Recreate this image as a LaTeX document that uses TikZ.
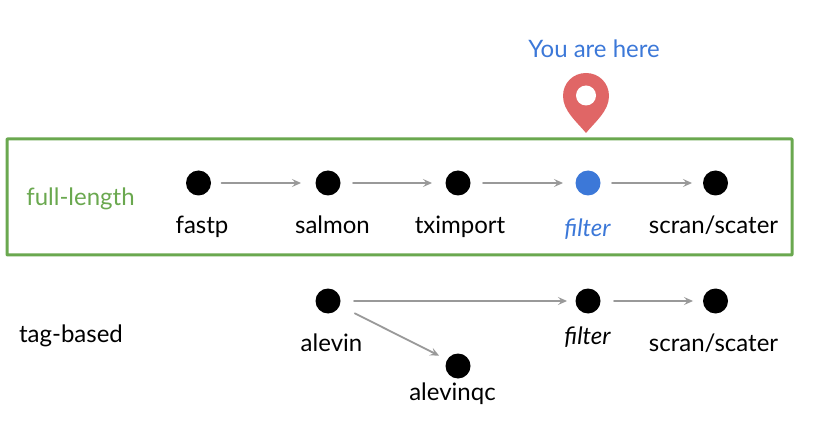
\documentclass[tikz,border=0pt]{standalone}
\usepackage{fontspec}
\setmainfont{Lato}
\usetikzlibrary{arrows.meta,positioning}
\definecolor{boxgreen}{HTML}{6AA84F}
\definecolor{hereblue}{HTML}{3C78D8}
\definecolor{pinred}{HTML}{E06666}
\definecolor{arrowgray}{HTML}{999999}
\tikzset{
  stepdot/.style={circle,fill=black,minimum size=25pt,inner sep=0pt,outer sep=0pt},
  steplabel/.style={anchor=base,inner sep=0pt,font=\fontsize{24}{28}\selectfont},
  steparrow/.style={draw=arrowgray,line width=1.8pt,shorten <=12.5pt,shorten >=12.5pt,
    -{Stealth[length=9pt,width=8pt,inset=3.5pt]}},
  every picture/.style={line cap=round,line join=round}
}

\begin{document}
\begin{tikzpicture}[x=1pt,y=-1pt]
  \useasboundingbox (0,0) rectangle (826,427);
  \node[steplabel,hereblue] (here) at (594,58) {You are here};
  % pin
  \fill[pinred] (586,133) .. controls (577,122) and (563,111) .. (563,96)
        .. controls (563,83) and (573,73) .. (586,73)
        .. controls (599,73) and (609,83) .. (609,96)
        .. controls (609,111) and (595,122) .. (586,133) -- cycle;
  \fill[white] (586,95.5) circle (10);
  \node[draw=boxgreen,line width=3pt,rounded corners=0.5pt,minimum width=785pt,minimum height=116pt,inner sep=0pt,outer sep=0pt] (fullbox) at (399.5,197) {};
  % full-length row
  \node[stepdot] (fastp) at (198.5,183) {};
  \node[stepdot] (salmon) at (328,183) {};
  \node[stepdot] (tximport) at (458,183) {};
  \node[stepdot,fill=hereblue] (filtera) at (588,183) {};
  \node[stepdot] (scrana) at (715.5,183) {};
  \node[steplabel,boxgreen] (fulllabel) at (80.5,206) {full-length};
  \node[steplabel] (fastplabel) at (202,233.5) {fastp};
  \node[steplabel] (salmonlabel) at (332.5,233.5) {salmon};
  \node[steplabel] (tximportlabel) at (460,233.5) {tximport};
  \node[steplabel,hereblue] (filteralabel) at (587.5,236.5) {\itshape filter};
  \node[steplabel] (scranalabel) at (713.5,233.5) {scran/scater};
  \draw[steparrow,shorten <=10.5pt,shorten >=14.5pt] (fastp)--(salmon);
  \draw[steparrow,shorten >=13.5pt] (salmon)--(tximport);
  \draw[steparrow] (tximport)--(filtera);
  \draw[steparrow,shorten <=11.5pt,shorten >=11pt] (filtera)--(scrana);
  % tag-based row
  \node[stepdot] (alevin) at (328,301) {};
  \node[stepdot] (filterb) at (588,301) {};
  \node[stepdot] (scranb) at (715.5,301) {};
  \node[stepdot] (alevinqc) at (458,366) {};
  \node[steplabel] (taglabel) at (71,342) {tag-based};
  \node[steplabel] (alevinlabel) at (331.5,351) {alevin};
  \node[steplabel] (filterblabel) at (587.5,344.5) {\itshape filter};
  \node[steplabel] (scranblabel) at (713.5,351) {scran/scater};
  \node[steplabel] (alevinqclabel) at (452.5,400) {alevinqc};
  \draw[steparrow,shorten <=13.5pt,shorten >=8.5pt] (alevin)--(filterb);
  \draw[steparrow,shorten <=13.5pt,shorten >=10pt] (filterb)--(scranb);
  \draw[steparrow,shorten <=17pt,shorten >=9pt] (alevin.-22)--(alevinqc.150);
\end{tikzpicture}
\end{document}
